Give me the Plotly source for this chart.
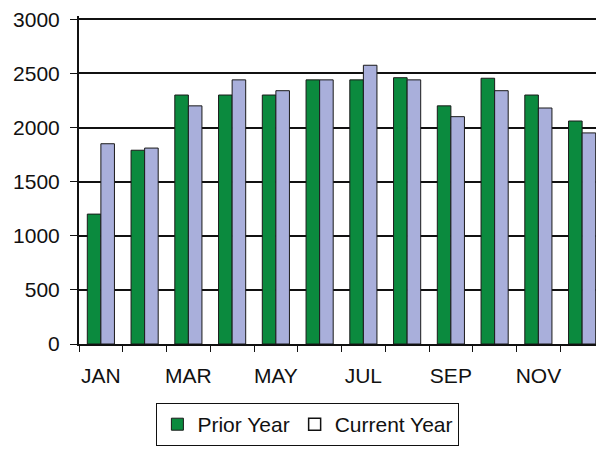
import plotly.graph_objects as go

months = ["JAN", "FEB", "MAR", "APR", "MAY", "JUN", "JUL", "AUG", "SEP", "OCT", "NOV", "DEC"]
tick_text = ["JAN", "", "MAR", "", "MAY", "", "JUL", "", "SEP", "", "NOV", ""]
prior_year = [1200, 1790, 2300, 2300, 2300, 2440, 2440, 2460, 2200, 2455, 2300, 2060]
current_year = [1850, 1810, 2200, 2440, 2340, 2440, 2575, 2440, 2100, 2340, 2180, 1950]
y_ticks = [0, 500, 1000, 1500, 2000, 2500, 3000]

font = dict(family="Liberation Sans, Arial, sans-serif", size=21, color="#111111")

fig = go.Figure()
fig.add_trace(go.Bar(x=months, y=prior_year, name="Prior Year", offsetgroup="a",
                     marker=dict(color="#0b8a3e", line=dict(color="#1a1a1a", width=1))))
fig.add_trace(go.Bar(x=months, y=current_year, name="Current Year", showlegend=False,
                     offsetgroup="b",
                     marker=dict(color="#a9afdb", line=dict(color="#1a1a1a", width=1))))
# legend entry for Current Year shown as an open square, as in the reference
fig.add_trace(go.Bar(x=[months[0]], y=[None], name="Current Year", offsetgroup="b",
                     marker=dict(color="#ffffff", line=dict(color="#111111", width=1.5))))

fig.update_layout(
    width=596, height=443,
    margin=dict(l=71, r=0, t=8, b=107, autoexpand=False),
    paper_bgcolor="white", plot_bgcolor="white",
    font=font,
    barmode="group", bargap=0.38, bargroupgap=0,
    showlegend=True,
    legend=dict(orientation="h", x=0.436, xanchor="center", y=-0.18, yanchor="top",
                bordercolor="#111111", borderwidth=1, bgcolor="white",
                font=dict(family=font["family"], size=21, color="#111111"),
                itemwidth=30, traceorder="normal"),
    xaxis=dict(type="category", tickmode="array", tickvals=months, ticktext=tick_text,
               tickangle=0,
               tickson="boundaries", ticks="outside", ticklen=6, tickcolor="#111111",
               showline=True, linecolor="#111111", linewidth=2, showgrid=False,
               ticklabelstandoff=12),
    yaxis=dict(range=[0, 3030], tickmode="array", tickvals=y_ticks,
               ticks="outside", ticklen=7, tickcolor="#111111",
               showline=True, linecolor="#111111", linewidth=2,
               showgrid=True, gridcolor="#111111", gridwidth=1.5, zeroline=False,
               ticklabelstandoff=6, ticklabeloverflow="allow"),
)

fig.write_html("out.html")
